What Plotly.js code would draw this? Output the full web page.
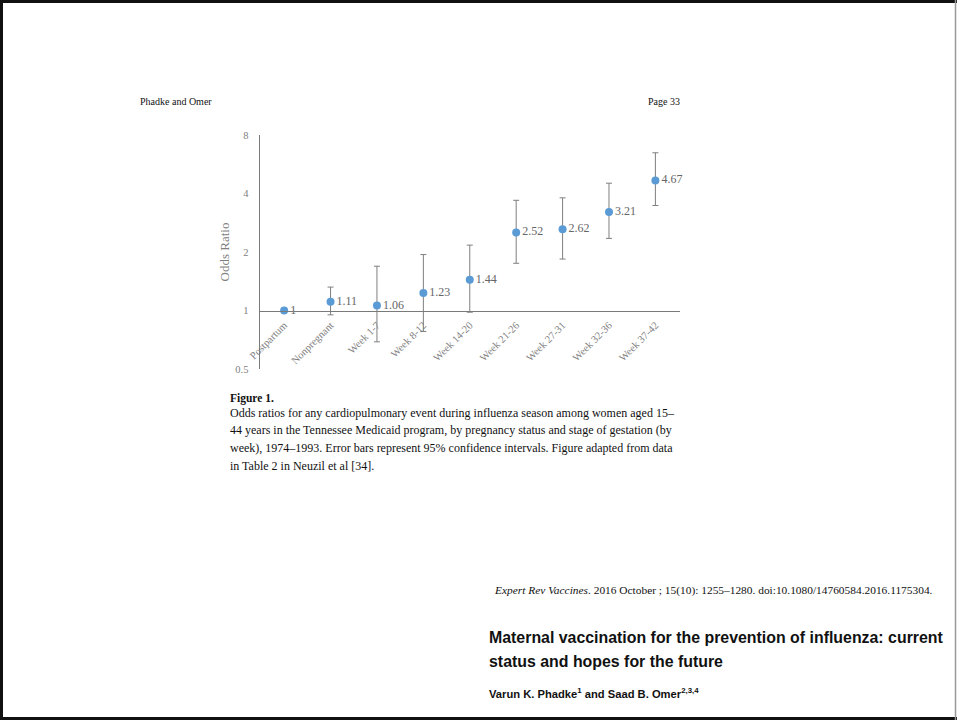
<!DOCTYPE html>
<html>
<head>
<meta charset="utf-8">
<script src="https://cdn.plot.ly/plotly-3.0.1.min.js"></script>
<style>
  html, body { margin: 0; padding: 0; background: #fff; }
  #chart { width: 957px; height: 720px; }
</style>
</head>
<body>
<div id="chart"></div>
<script>
// ---- data ----
const categories = ["Postpartum", "Nonpregnant", "Week 1-7", "Week 8-12", "Week 14-20",
                    "Week 21-26", "Week 27-31", "Week 32-36", "Week 37-42"];
const oddsRatio  = [1, 1.11, 1.06, 1.23, 1.44, 2.52, 2.62, 3.21, 4.67];
const ciLow      = [1, 0.95, 0.69, 0.78, 0.98, 1.75, 1.84, 2.35, 3.47];
const ciHigh     = [1, 1.32, 1.69, 1.94, 2.17, 3.69, 3.80, 4.52, 6.48];
const labels     = ["1", "1.11", "1.06", "1.23", "1.44", "2.52", "2.62", "3.21", "4.67"];
const yTicks     = [0.5, 1, 2, 4, 8];
const yTickText  = ["0.5", "1", "2", "4", "8"];

// ---- page geometry ----
const W = 957, H = 720;
const M = { l: 260, r: 277, t: 135, b: 351 };
const PW = W - M.l - M.r, PH = H - M.t - M.b;
const px = x => (x - M.l) / PW;
const py = y => (H - M.b - y) / PH;

const yMin = 0.5, yMax = 8;
const xAxisPos = (Math.log10(1) - Math.log10(yMin)) / (Math.log10(yMax) - Math.log10(yMin));

const serif = "Liberation Serif, Times New Roman, serif";
const sans = "Liberation Sans, Arial, sans-serif";

const trace = {
  type: "scatter",
  mode: "markers+text",
  x: categories,
  y: oddsRatio,
  text: labels,
  textposition: "middle right",
  textfont: { family: serif, size: 12, color: "#666" },
  marker: { color: "#5B9BD5", size: 8 },
  error_y: {
    type: "data",
    symmetric: false,
    array: ciHigh.map((v, i) => v - oddsRatio[i]),
    arrayminus: oddsRatio.map((v, i) => v - ciLow[i]),
    color: "#7f7f7f",
    thickness: 1,
    width: 3
  },
  cliponaxis: false,
  hoverinfo: "x+y"
};

function txt(text, x, y, size, opts) {
  return Object.assign({
    text: text, xref: "paper", yref: "paper", x: px(x), y: py(y),
    xanchor: "left", yanchor: "middle", showarrow: false,
    font: { family: serif, size: size, color: "#111" }
  }, opts || {});
}

const capSize = 12;
const annotations = [
  txt("Phadke and Omer", 138, 101, 10),
  txt("Page 33", 682, 101, 10, { xanchor: "right" }),
  txt("<b>Figure 1.</b>", 228, 398, 11.5),
  txt("Odds ratios for any cardiopulmonary event during influenza season among women aged 15–", 228, 413, capSize),
  txt("44 years in the Tennessee Medicaid program, by pregnancy status and stage of gestation (by", 228, 430, capSize),
  txt("week), 1974–1993. Error bars represent 95% confidence intervals. Figure adapted from data", 228, 448, capSize),
  txt("in Table 2 in Neuzil et al [34].", 228, 466, capSize),
  txt("<i>Expert Rev Vaccines</i>. 2016 October ; 15(10): 1255–1280. doi:10.1080/14760584.2016.1175304.", 935, 590, 11.4, { xanchor: "right" }),
  txt("<b>Maternal vaccination for the prevention of influenza: current</b>", 487, 637, 15.9, { font: { family: sans, size: 15.9, color: "#111" } }),
  txt("<b>status and hopes for the future</b>", 487, 661, 15.9, { font: { family: sans, size: 15.9, color: "#111" } }),
  txt("<b>Varun K. Phadke<sup>1</sup> and Saad B. Omer<sup>2,3,4</sup></b>", 487, 693, 11.2, { font: { family: sans, size: 11.2, color: "#111" } })
];

const shapes = [
  // page frame
  { type: "line", xref: "paper", yref: "paper", x0: px(0), x1: px(957), y0: py(1.5), y1: py(1.5), line: { color: "#111", width: 3 } },
  { type: "line", xref: "paper", yref: "paper", x0: px(1.5), x1: px(1.5), y0: py(0), y1: py(720), line: { color: "#111", width: 3 } },
  { type: "line", xref: "paper", yref: "paper", x0: px(0), x1: px(957), y0: py(718.5), y1: py(718.5), line: { color: "#111", width: 3 } },
  { type: "line", xref: "paper", yref: "paper", x0: px(955.5), x1: px(955.5), y0: py(0), y1: py(720), line: { color: "#999", width: 1.5 } }
];

const layout = {
  width: W, height: H,
  margin: M,
  paper_bgcolor: "#fff",
  plot_bgcolor: "#fff",
  showlegend: false,
  xaxis: {
    type: "category",
    range: [-0.52, categories.length - 1 + 0.53],
    anchor: "free",
    position: xAxisPos,
    showline: true, linecolor: "#7a7a7a", linewidth: 1.5,
    showgrid: false, zeroline: false,
    ticks: "", tickangle: -45,
    ticklabelstandoff: 3,
    tickfont: { family: serif, size: 10.5, color: "#808080" }
  },
  yaxis: {
    type: "log",
    range: [Math.log10(yMin), Math.log10(yMax)],
    tickvals: yTicks, ticktext: yTickText,
    showline: true, linecolor: "#7a7a7a", linewidth: 1.5,
    showgrid: false, zeroline: false,
    ticks: "", ticklabelstandoff: 8,
    tickfont: { family: serif, size: 10.5, color: "#808080" },
    title: { text: "Odds Ratio", font: { family: serif, size: 13, color: "#808080" }, standoff: 2 }
  },
  annotations: annotations,
  shapes: shapes
};

Plotly.newPlot("chart", [trace], layout, { displayModeBar: false, staticPlot: true });
</script>
</body>
</html>
